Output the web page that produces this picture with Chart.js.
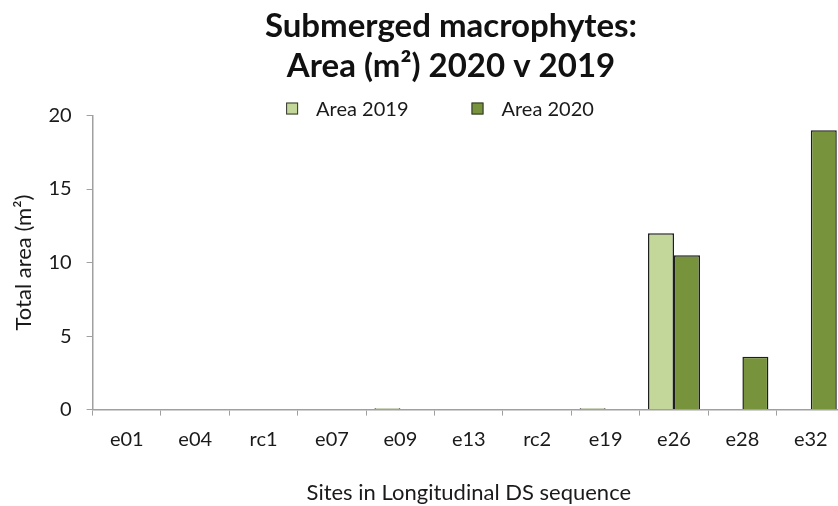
<!DOCTYPE html>
<html>
<head>
<meta charset="utf-8">
<script src="https://cdn.jsdelivr.net/npm/chart.js@4.4.0/dist/chart.umd.min.js"></script>
<style>
  html, body { margin: 0; padding: 0; background: #fff; overflow: hidden; }
  #wrap { width: 838px; height: 506px; overflow: hidden; }
</style>
</head>
<body>
<div id="wrap"><canvas id="chart" width="902" height="506"></canvas></div>
<script>
const sites = ["e01", "e04", "rc1", "e07", "e09", "e13", "rc2", "e19", "e26", "e28", "e32"];
const area2019 = [0, 0, 0, 0, 0.1, 0, 0, 0.1, 12, 0, 0];
const area2020 = [0, 0, 0, 0, 0, 0, 0, 0, 10.5, 3.6, 19];
const yTicks = [0, 5, 10, 15, 20];

const FONT = "Lato, 'Open Sans', sans-serif";
const axisGrey = "#a0a0a0";
const textColor = "#1a1a1a";

// legend drawn just above the plot area, like the spreadsheet chart
const topLegend = {
  id: "topLegend",
  afterDraw(chart) {
    const c = chart.ctx;
    const box = 12, gapText = 18, gapItem = 63;
    c.save();
    c.font = "20px " + FONT;
    c.textBaseline = "middle";
    const items = chart.data.datasets.map((ds) => ({
      label: ds.label,
      fill: ds.backgroundColor,
      w: box + gapText + c.measureText(ds.label).width,
    }));
    const total = items.reduce((s, it) => s + it.w, 0) + gapItem * (items.length - 1);
    let x = chart.width / 2 - 11 - total / 2;
    const y = chart.chartArea.top - 7;
    items.forEach((it) => {
      c.fillStyle = it.fill;
      c.fillRect(x, y - box / 2, box, box);
      c.strokeStyle = "#333";
      c.lineWidth = 1;
      c.strokeRect(x + 0.5, y - box / 2 + 0.5, box - 1, box - 1);
      c.fillStyle = textColor;
      c.fillText(it.label, x + box + gapText, y + 1);
      x += it.w + gapItem;
    });
    c.restore();
  },
};

const ctx = document.getElementById("chart").getContext("2d");
new Chart(ctx, {
  type: "bar",
  data: {
    labels: sites,
    datasets: [
      {
        label: "Area 2019",
        data: area2019,
        backgroundColor: "#c4d79b",
        borderColor: "#1e1e1e",
        borderWidth: 1.5,
        barPercentage: 1.0,
        categoryPercentage: 0.76,
      },
      {
        label: "Area 2020",
        data: area2020,
        backgroundColor: "#77933c",
        borderColor: "#1e1e1e",
        borderWidth: 1.5,
        barPercentage: 1.0,
        categoryPercentage: 0.76,
      },
    ],
  },
  plugins: [topLegend],
  options: {
    responsive: false,
    animation: false,
    layout: { padding: { left: 0, right: 0, top: 0, bottom: 0 } },
    scales: {
      x: {
        grid: {
          display: true,
          drawOnChartArea: false,
          offset: true,
          tickLength: 6,
          color: axisGrey,
        },
        border: { color: axisGrey, width: 1.5 },
        ticks: { color: textColor, font: { family: FONT, size: 20 }, padding: 12 },
        title: {
          display: true,
          text: "Sites in Longitudinal DS sequence",
          color: textColor,
          font: { family: FONT, size: 22 },
          padding: { top: 16, bottom: 0 },
        },
      },
      y: {
        min: 0,
        max: 20,
        afterBuildTicks: (axis) => {
          axis.ticks = yTicks.map((v) => ({ value: v }));
        },
        grid: {
          display: true,
          drawOnChartArea: false,
          tickLength: 6,
          color: axisGrey,
        },
        border: { color: axisGrey, width: 1.5 },
        ticks: { color: textColor, font: { family: FONT, size: 20 }, padding: 15 },
        title: {
          display: true,
          text: "Total area (m²)",
          color: textColor,
          font: { family: FONT, size: 22 },
          padding: { top: 11, bottom: -4 },
        },
      },
      // empty right-hand axis, only reserves the space past the last category
      spacer: {
        type: "linear",
        position: "right",
        display: true,
        grid: { display: false },
        border: { display: false },
        ticks: { display: false },
        afterFit: (axis) => {
          axis.width = 57;
        },
      },
    },
    plugins: {
      title: {
        display: true,
        text: ["Submerged macrophytes:", "Area (m²) 2020 v 2019"],
        color: "#111",
        font: { family: FONT, size: 33, weight: "bold", lineHeight: 1.22 },
        padding: { top: 6, bottom: 29 },
      },
      legend: { display: false },
      tooltip: { enabled: false },
    },
  },
});
</script>
</body>
</html>
